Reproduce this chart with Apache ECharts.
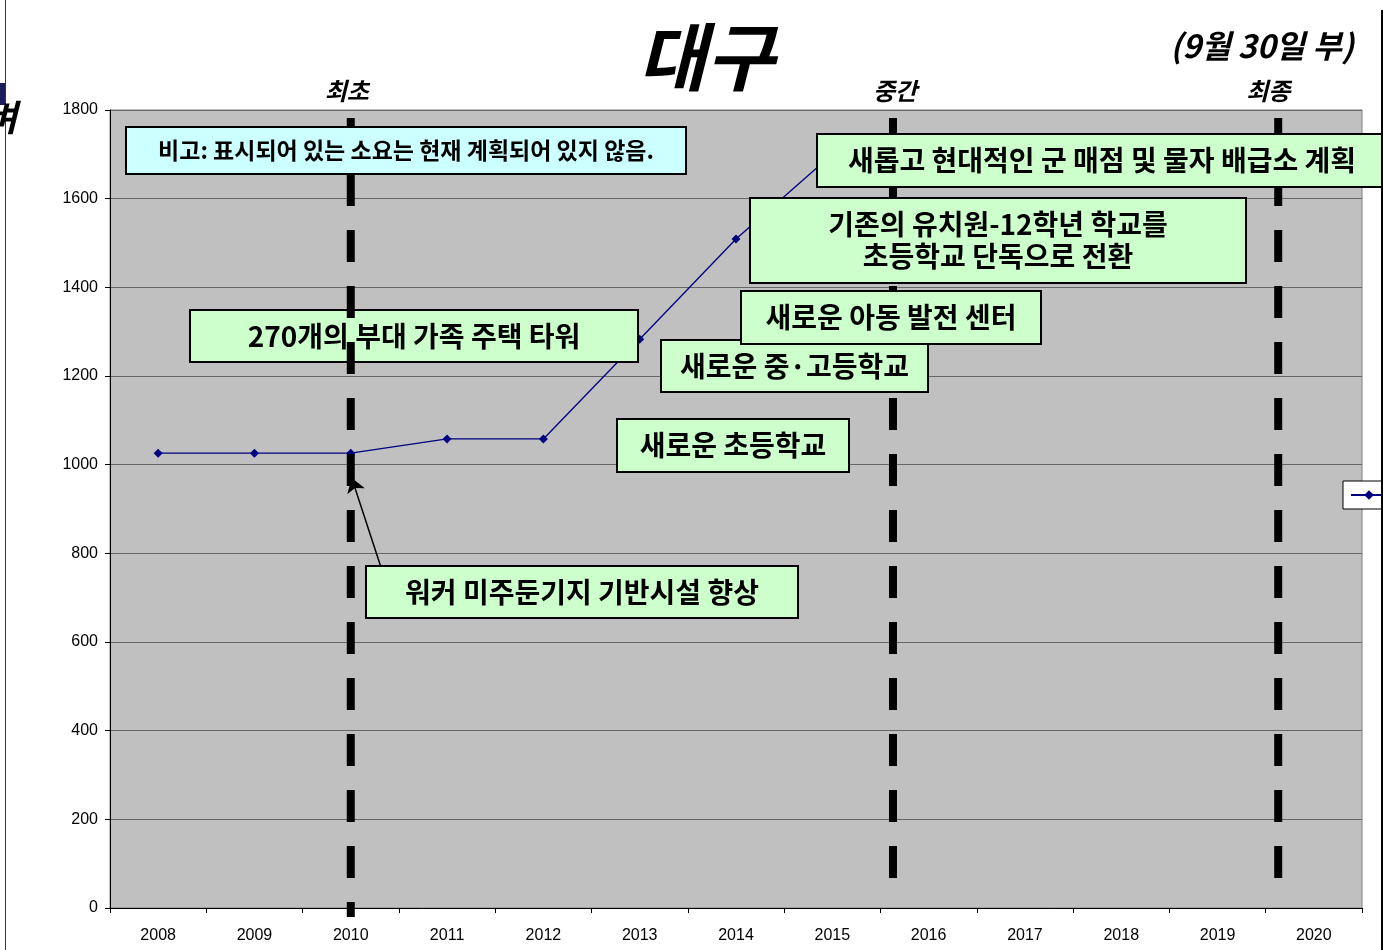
<!DOCTYPE html>
<html>
<head>
<meta charset="utf-8">
<script src="https://cdn.jsdelivr.net/npm/echarts@6/dist/echarts.min.js"></script>
<style>
  html, body { margin: 0; padding: 0; background: #fff; }
  #chart { width: 1383px; height: 950px; }
</style>
</head>
<body>
<div id="chart"></div>
<script>
// 데이터
const years = ['2008', '2009', '2010', '2011', '2012', '2013', '2014', '2015', '2016', '2017', '2018', '2019', '2020']
const population = [1026, 1026, 1026, 1058, 1058, 1283, 1509, 1700, 1700, 1700, 1700, 1700, 1700]
const seriesName = '대구'
const phaseLabels = ['최초', '중간', '최종']
const phasePos = [2, 7.63, 11.63] // 카테고리 인덱스 기준 위치
const noteText = '비고: 표시되어 있는 소요는 현재 계획되어 있지 않음.'
const projects = [
  '새롭고 현대적인 군 매점 및 물자 배급소 계획',
  '기존의 유치원-12학년 학교를\n초등학교 단독으로 전환',
  '새로운 아동 발전 센터',
  '새로운 중·고등학교',
  '270개의 부대 가족 주택 타워',
  '새로운 초등학교',
  '워커 미주둔기지 기반시설 향상'
]

const FONT = '"Noto Sans CJK KR", sans-serif'
const chart = echarts.init(document.getElementById('chart'))

// 박스 (사각형 + 가운데 텍스트)
function box(x, y, w, h, text, fill, size, z) {
  return [
    { type: 'rect', z, shape: { x, y, width: w, height: h },
      style: { fill, stroke: '#000', lineWidth: 2 } },
    { type: 'text', z: z + 1, x: x + w / 2, y: y + h / 2,
      style: { text, font: `bold ${size}px ${FONT}`, fill: '#000',
        textAlign: 'center', textVerticalAlign: 'middle', lineHeight: 32 } }
  ]
}

const option = {
  animation: false,
  grid: {
    left: 110, top: 110, width: 1252, height: 798,
    show: true, backgroundColor: '#C0C0C0', borderColor: '#808080', borderWidth: 1
  },
  legend: {
    data: [seriesName],
    left: 1343, top: 481,
    backgroundColor: '#fff', borderColor: '#000', borderWidth: 1,
    padding: [8, 7], itemWidth: 36, itemHeight: 12,
    textStyle: { fontSize: 12, color: '#000' }
  },
  xAxis: [
    {
      type: 'category', data: years, boundaryGap: true,
      axisLine: { lineStyle: { color: '#000', width: 1 } },
      axisTick: { show: true, interval: 0, length: 5, lineStyle: { color: '#000' } },
      axisLabel: { interval: 0, color: '#000', fontSize: 16, margin: 20, fontFamily: 'Liberation Sans, Arial' }
    },
    { type: 'value', min: -0.5, max: 12.5, show: false }
  ],
  yAxis: {
    type: 'value', min: 0, max: 1800, interval: 200,
    axisLine: { show: true, onZero: false, lineStyle: { color: '#000' } },
    axisTick: { show: true, length: 5, lineStyle: { color: '#000' } },
    axisLabel: { color: '#000', fontSize: 16, margin: 12, fontFamily: 'Liberation Sans, Arial', formatter: v => String(v) },
    splitLine: { lineStyle: { color: '#666', width: 1 } }
  },
  series: [
    {
      name: seriesName, type: 'line', data: population, z: 2,
      symbol: 'diamond', symbolSize: 9,
      itemStyle: { color: '#000080' },
      lineStyle: { color: '#000080', width: 1.3 }
    },
    {
      // 화살표
      type: 'line', xAxisIndex: 1, data: [], silent: true,
      markLine: {
        z: 25, silent: true, animation: false,
        symbol: ['none', 'arrow'], symbolSize: 14,
        label: { show: false },
        lineStyle: { color: '#000', width: 1.5, type: 'solid' },
        emphasis: { disabled: true },
        data: [[{ coord: [2.31, 771] }, { coord: [2.01, 970] }]]
      }
    }
  ]
}

chart.setOption(option)

const phaseX = phasePos.map(p => chart.convertToPixel({ xAxisIndex: 1 }, p))
const phaseShift = [-4, 2, -10]
const phaseBottom = [917, 879, 879]

const graphics = [
  // 테두리
  { type: 'line', z: 1, shape: { x1: 5.5, y1: 0, x2: 5.5, y2: 950 }, style: { stroke: '#333', lineWidth: 1 } },
  { type: 'line', z: 30, shape: { x1: 1382, y1: 10, x2: 1382, y2: 950 }, style: { stroke: '#000', lineWidth: 2 } },
  { type: 'rect', z: 1, shape: { x: 0, y: 83, width: 5, height: 22 }, style: { fill: '#1c1c5c' } },
  { type: 'text', z: 1, x: -16, y: 117, style: { text: '벼', font: `italic bold 36px ${FONT}`, fill: '#000', textVerticalAlign: 'middle' } },
  // 제목
  { type: 'text', z: 1, x: 706, y: 57, style: { text: '대구', font: `italic bold 74px ${FONT}`, fill: '#000', textAlign: 'center', textVerticalAlign: 'middle' } },
  { type: 'text', z: 1, x: 1262, y: 46, style: { text: '(9월 30일 부)', font: `italic bold 32px ${FONT}`, fill: '#000', textAlign: 'center', textVerticalAlign: 'middle' } },
  // 단계 구분 점선 + 라벨
  ...phaseLabels.map((t, i) => ({
    type: 'text', z: 1, x: phaseX[i] + phaseShift[i], y: 91,
    style: { text: t, font: `italic bold 24px ${FONT}`, fill: '#000', textAlign: 'center', textVerticalAlign: 'middle' }
  })),
  ...phaseX.map((x, i) => ({
    type: 'line', z: 10, silent: true,
    shape: { x1: x, y1: 118, x2: x, y2: phaseBottom[i] },
    style: { stroke: '#000', lineWidth: 8, lineDash: [32, 24] }
  })),
  // 주석 박스
  ...box(126, 127, 560, 47, noteText, '#CCFFFF', 23, 20),
  ...box(817, 134, 570, 53, projects[0], '#CCFFCC', 28, 20),
  ...box(750, 198, 496, 85, projects[1], '#CCFFCC', 28, 20),
  ...box(661, 340, 267, 52, projects[3], '#CCFFCC', 28, 20),
  ...box(741, 291, 300, 53, projects[2], '#CCFFCC', 28, 22),
  ...box(190, 310, 448, 52, projects[4], '#CCFFCC', 28, 6),
  ...box(617, 419, 232, 53, projects[5], '#CCFFCC', 28, 20),
  ...box(366, 566, 432, 52, projects[6], '#CCFFCC', 28, 20)
]

chart.setOption({ graphic: { elements: graphics } })
window.addEventListener('resize', () => chart.resize())
</script>
</body>
</html>
